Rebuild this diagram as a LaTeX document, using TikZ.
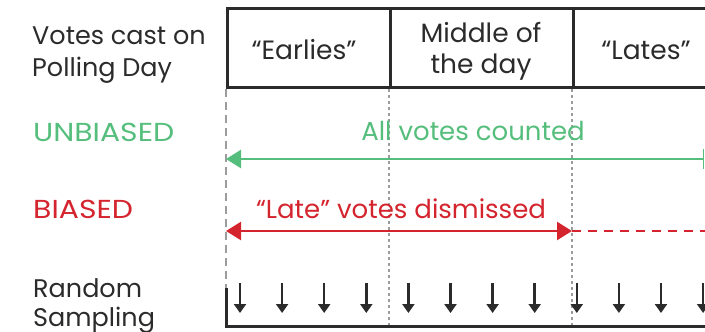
\documentclass[tikz,border=0pt]{standalone}
\usepackage{fontspec}
\setmainfont{Poppins}
\newfontfamily\widecaps[FakeStretch=1.15]{Poppins}
\usetikzlibrary{arrows.meta}
\definecolor{txt}{HTML}{2B2B2B}
\definecolor{grn}{HTML}{55BE7C}
\definecolor{rd}{HTML}{D4242E}
\definecolor{gry}{HTML}{9C9C9C}
\begin{document}
\begin{tikzpicture}[x=1pt,y=-1pt,
  lbl/.style={inner sep=0pt, anchor=base west, text=txt, font=\fontsize{25.5}{30}\selectfont},
  clbl/.style={inner sep=0pt, anchor=base west, font=\fontsize{26}{30}\selectfont},
  catlbl/.style={inner sep=0pt, anchor=base west, font=\widecaps\fontsize{26}{30}\selectfont},
  cell/.style={draw=txt, line width=3pt, anchor=north west, minimum height=79pt, inner sep=0pt},
  celltxt/.style={inner sep=0pt, anchor=base, text=txt, font=\fontsize{26.5}{30}\selectfont},
  guidedash/.style={draw=gry, line width=2.5pt, dash pattern=on 8pt off 5pt},
  guidedot/.style={draw=gry, line width=2.5pt, dash pattern=on 3pt off 3pt},
  bigarrow/.style={line width=2.5pt},
  sample/.style={draw=txt, line width=2.5pt, -{Triangle[length=9pt,width=12pt]}}
]
\useasboundingbox (0,0) rectangle (705,332);
\clip (0,0) rectangle (705,332);
% left labels
\node[lbl] (votesA) at (32,45) {Votes cast on};
\node[lbl] (votesB) at (32,76) {Polling Day};
\node[catlbl, text=grn] (unb) at (33,141) {UNBIASED};
\node[catlbl, text=rd] (bia) at (33,218) {BIASED};
\node[lbl] (randA) at (33,297) {Random};
\node[lbl] (randB) at (33,326) {Sampling};
% header cells
\node[cell, minimum width=163pt] (early) at (226,7) {};
\node[cell, minimum width=183pt] (middle) at (389,7) {};
\node[cell, minimum width=150pt] (late) at (572,7) {};
\node[celltxt] (earlyT) at (304,59) {“Earlies”};
\node[celltxt] (middleA) at (481,42) {Middle of};
\node[celltxt] (middleB) at (481,73) {the day};
\node[celltxt] (lateT) at (646,59) {“Lates”};
% bottom reference
\coordinate (base) at (0,326);
\draw[guidedash] (early.south west) -- (early.south west |- base);
\draw[guidedot] (middle.south west) -- (middle.south west |- base);
\draw[guidedot] (late.south west) -- (late.south west |- base);
% unbiased
\coordinate (gL) at (226,159);
\coordinate (gR) at (704,159);
\draw[bigarrow, grn, {Triangle[length=15pt,width=18pt]}-{Bar[width=20pt,line width=1.5pt]}] (gL) -- (gR);
\node[clbl, text=grn, anchor=base] (allv) at (473,140) {All votes counted};
% biased
\coordinate (rL) at (226,231);
\coordinate (rM) at (572,231);
\coordinate (rR) at (705,231);
\draw[bigarrow, rd, {Triangle[length=15pt,width=18pt]}-{Triangle[length=15pt,width=18pt]}] (rL) -- (rM);
\draw[bigarrow, rd, dash pattern=on 9pt off 7pt] (rM) -- (rR);
\node[clbl, text=rd, anchor=base] (latev) at (401,218) {“Late” votes dismissed};
% random sampling bracket
\coordinate (brT) at (226,288);
\coordinate (brB) at (226,326);
\coordinate (brR) at (710,326);
\draw[draw=txt, line width=3pt] (brT) -- (brB) -- (brR);
\foreach \i in {0,...,11} {
  \coordinate (s\i a) at ({240+42.1*\i},283);
  \coordinate (s\i b) at ({240+42.1*\i},313);
  \draw[sample] (s\i a) -- (s\i b);
}
\end{tikzpicture}
\end{document}
